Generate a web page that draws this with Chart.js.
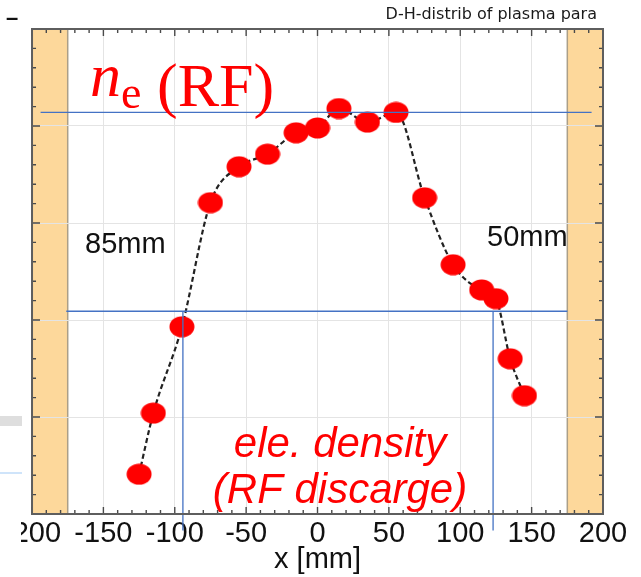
<!DOCTYPE html>
<html><head><meta charset="utf-8">
<script src="https://cdn.jsdelivr.net/npm/chart.js@4.4.0/dist/chart.umd.min.js"></script>
<style>html,body{margin:0;padding:0;background:#fff;}</style>
</head><body>
<canvas id="c" width="641" height="577"></canvas>
<script>
// ---- data ----
const positions = [-125,-115,-95,-75,-55,-35,-15,0,15,35,55,75,95,115,125,135,145];
const density   = [0.41,1.04,1.93,3.21,3.58,3.71,3.93,3.98,4.18,4.04,4.14,3.26,2.57,2.31,2.22,1.60,1.22];
const xTickValues = [-200,-150,-100,-50,0,50,100,150,200];
const wallLeft  = [-200,-175];
const wallRight = [175,200];
const maxLevel  = 4.14;
const halfLevel = 2.09;
const maxLineX  = [-194,192];
const halfLineX = [-176,175];
const halfEdgeX = [-94.3,123];
const axisBottomY = -0.17;

const pts = positions.map((x,i)=>({x:x,y:density[i]}));

// ellipse marker
const dot = document.createElement('canvas'); dot.width=26; dot.height=22;
(function(){const g=dot.getContext('2d');g.fillStyle='#ff0000';g.beginPath();g.ellipse(13,11,12.5,10.5,0,0,Math.PI*2);g.fill();})();

const blue = '#4472c4';
const lineDS = (data)=>({type:'line',data:data,borderColor:blue,borderWidth:1.3,pointRadius:0,fill:false,clip:false,order:0,tension:0});

const bandsPlugin = {
  id:'bands',
  beforeDraw(chart){
    const {ctx,chartArea:a,scales:{x}} = chart;
    ctx.save();
    ctx.fillStyle='#fdd89b';
    [wallLeft,wallRight].forEach(w=>{
      const x0=x.getPixelForValue(w[0]), x1=x.getPixelForValue(w[1]);
      ctx.fillRect(Math.min(x0,x1),a.top,Math.abs(x1-x0),a.bottom-a.top);
    });
    ctx.strokeStyle='#ab9f88'; ctx.lineWidth=1.5;
    [wallLeft[1],wallRight[0]].forEach(v=>{
      const px=x.getPixelForValue(v); ctx.beginPath(); ctx.moveTo(px,a.top); ctx.lineTo(px,a.bottom); ctx.stroke();
    });
    ctx.restore();
  }
};

const framePlugin = {
  id:'frame',
  afterDraw(chart){
    const {ctx,chartArea:a,scales:{x,y}} = chart;
    ctx.save();
    ctx.strokeStyle='#4a4a4a'; ctx.lineWidth=1.4;
    ctx.beginPath();
    for(let v=-200; v<=200; v+=10){
      const px=x.getPixelForValue(v); const L=(v%50===0)?7:4;
      ctx.moveTo(px,a.bottom); ctx.lineTo(px,a.bottom-L);
      ctx.moveTo(px,a.top); ctx.lineTo(px,a.top+L);
    }
    for(let k=0;k<=25;k++){
      const v=k*0.2; const py=y.getPixelForValue(v); const L=(k%5===0)?8:4;
      ctx.moveTo(a.left,py); ctx.lineTo(a.left+L,py);
      ctx.moveTo(a.right,py); ctx.lineTo(a.right-L,py);
    }
    ctx.stroke();
    ctx.strokeStyle='#5e5e5e'; ctx.lineWidth=2;
    ctx.strokeRect(a.left,a.top,a.right-a.left,a.bottom-a.top);

    // annotations
    ctx.fillStyle='#ff0000';
    ctx.textBaseline='alphabetic'; ctx.textAlign='left';
    ctx.font='italic 62px "Liberation Serif"'; ctx.fillText('n',90,96);
    ctx.font='46px "Liberation Serif"'; ctx.fillText('e',121,108);
    ctx.font='62px "Liberation Serif"'; ctx.fillText('(RF)',157,106);
    ctx.textAlign='center';
    ctx.font='italic 42px "Liberation Sans"';
    ctx.fillText('ele. density',340,457);
    ctx.fillText('(RF discarge)',340,503);
    ctx.fillStyle='#111';
    ctx.textAlign='left';
    ctx.font='29px "Liberation Sans"';
    ctx.fillText('85mm',85,253);
    ctx.fillText('50mm',487,246);
    ctx.fillStyle='#1a1a1a';
    ctx.textAlign='right';
    ctx.font='16px "DejaVu Sans"';
    ctx.fillText('D-H-distrib of plasma para',597,19);
    ctx.textAlign='left'; ctx.fillStyle='#111';
    ctx.font='bold 22px "Liberation Sans"';
    ctx.fillText('\u2013',6,25);
    // left screenshot remnants
    ctx.fillStyle='#ffffff'; ctx.fillRect(0,515,21,40);
    ctx.fillStyle='#dedede'; ctx.fillRect(0,416,22,10);
    ctx.fillStyle='#cfe4fa'; ctx.fillRect(0,472,22,2);
    ctx.restore();
  }
};

new Chart(document.getElementById('c'),{
  type:'scatter',
  data:{datasets:[
    {type:'line',data:pts,borderColor:'#222',borderWidth:2.2,borderDash:[5,3],pointRadius:0,cubicInterpolationMode:'monotone',fill:false,order:2},
    {type:'scatter',data:pts,pointStyle:dot,pointRadius:12,order:1},
    lineDS([{x:maxLineX[0],y:maxLevel},{x:maxLineX[1],y:maxLevel}]),
    lineDS([{x:halfLineX[0],y:halfLevel},{x:halfLineX[1],y:halfLevel}]),
    lineDS([{x:halfEdgeX[0],y:halfLevel},{x:halfEdgeX[0],y:axisBottomY}]),
    lineDS([{x:halfEdgeX[1],y:halfLevel},{x:halfEdgeX[1],y:axisBottomY}])
  ]},
  options:{
    responsive:false, animation:false, devicePixelRatio:1,
    layout:{padding:{left:32,right:38,top:29,bottom:0}},
    plugins:{legend:{display:false},tooltip:{enabled:false}},
    scales:{
      x:{type:'linear',min:-200,max:200,
        afterBuildTicks(s){s.ticks=xTickValues.map(v=>({value:v}));},
        afterFit(s){s.height=63;},
        ticks:{font:{family:'Liberation Sans',size:29},color:'#111',padding:3,maxRotation:0,autoSkip:false},
        grid:{color:'#e4e4e4',drawTicks:false,lineWidth:1},
        border:{display:false},
        title:{display:true,text:'x [mm]',font:{family:'Liberation Sans',size:29},color:'#111',padding:{top:0,bottom:0}}
      },
      y:{type:'linear',min:0,max:5,
        ticks:{display:false,stepSize:1},
        afterFit(s){s.width=0;},
        grid:{color:'#e4e4e4',drawTicks:false,lineWidth:1},
        border:{display:false}
      }
    }
  },
  plugins:[bandsPlugin,framePlugin]
});
</script>
</body></html>
